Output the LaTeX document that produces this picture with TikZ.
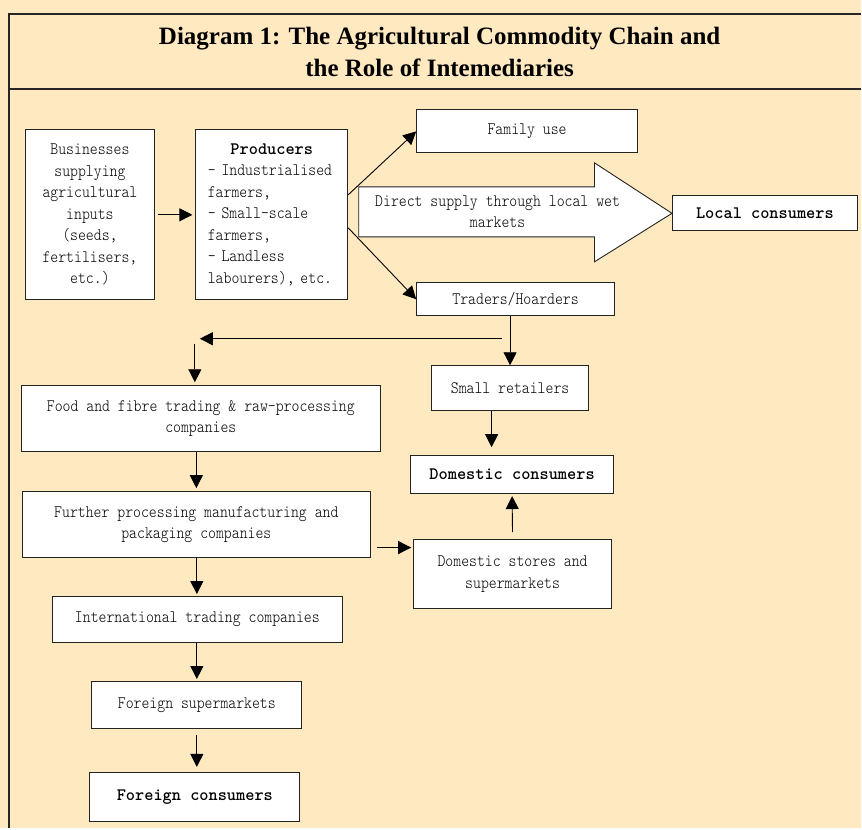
\documentclass[tikz,border=0pt]{standalone}
\usepackage{fontspec}
\usepackage{tikz}
\usetikzlibrary{arrows.meta}
\newfontfamily\titlefont{Liberation Serif}
\newfontfamily\boxfont[FakeStretch=0.86]{lmmonolt10-regular.otf}
\newfontfamily\boxboldfont{lmmonolt10-bold.otf}
\definecolor{cream}{RGB}{255,233,192}
\definecolor{edge}{RGB}{35,35,35}
\tikzset{
    frame/.style={line width=1.4pt, black!85},
    titletext/.style={align=center, font=\titlefont\bfseries\fontsize{25}{33}\selectfont},
    box/.style={draw=edge, line width=0.9pt, fill=white, align=center, inner sep=0pt,
        font=\boxfont\fontsize{17.5}{21.5}\selectfont},
    boldbox/.style={box, font=\boxboldfont\fontsize{17.5}{21.5}\selectfont},
    arr/.style={-{Triangle[length=13pt,width=13pt]}, line width=0.9pt, black},
}

\begin{document}
\begin{tikzpicture}[x=1pt, y=-1pt]
    % Background and frame
    \fill[cream] (0,0) rectangle (862,829);
    \draw[frame] (862,14) -- (9,14) -- (9,829);
    \draw[frame] (9,89) -- (862,89);

    % Title
    \node[titletext] (title) at (440,52) {Diagram 1: The Agricultural Commodity Chain and\\the Role of Intemediaries};

    % Inputs and producers
    \node[box, minimum width=130pt, minimum height=170pt] (biz) at (90,215)
        {Businesses\\supplying\\agricultural\\inputs\\(seeds,\\fertilisers,\\etc.)};
    \node[box, minimum width=152pt, minimum height=170pt, text width=128pt, align=left] (prod) at (272,215)
        {{\centering\boxboldfont Producers\par}- Industrialised\\farmers,\\- Small-scale\\farmers,\\- Landless\\labourers), etc.};

    % Right hand branches
    \node[box, minimum width=221pt, minimum height=43pt] (family) at (527.5,131.5) {Family use};
    \node[boldbox, minimum width=185pt, minimum height=35pt] (local) at (765.5,213.5) {Local consumers};
    \node[box, minimum width=198pt, minimum height=33pt] (traders) at (516,299.5) {Traders/Hoarders};

    % Big arrow for direct supply
    \draw[draw=edge, line width=0.9pt, fill=white] (359,187) -- (595,187) -- (595,163) -- (local.west)
        -- (595,262) -- (595,237) -- (359,237) -- cycle;
    \node[align=center, font=\boxfont\fontsize{17.5}{21.5}\selectfont] (direct) at (498,212)
        {Direct supply through local wet\\markets};

    % Domestic chain
    \node[box, minimum width=157pt, minimum height=45pt] (retail) at (510.5,388.5) {Small retailers};
    \node[boldbox, minimum width=203pt, minimum height=38pt] (domcons) at (512.5,475) {Domestic consumers};
    \node[box, minimum width=198pt, minimum height=69pt] (domstores) at (513,574.5) {Domestic stores and\\supermarkets};

    % Processing and export chain
    \node[box, minimum width=360pt, minimum height=66pt] (food) at (201,419)
        {Food and fibre trading \& raw-processing\\companies};
    \node[box, minimum width=349pt, minimum height=66pt] (further) at (196.5,525)
        {Further processing manufacturing and\\packaging companies};
    \node[box, minimum width=291pt, minimum height=46pt] (intl) at (197.5,620) {International trading companies};
    \node[box, minimum width=210pt, minimum height=47pt] (forsup) at (197,705.5) {Foreign supermarkets};
    \node[boldbox, minimum width=210pt, minimum height=49pt] (forcons) at (195,797.5) {Foreign consumers};

    % Connectors
    \coordinate (split) at (502,339);
    \coordinate (turn) at (200,339);
    \coordinate (drop) at (195,344);
    \draw[arr, shorten <=3pt, shorten >=3pt] (biz) -- (prod);
    \draw[arr] ([yshift=20pt]prod.east) -- (family.west);
    \draw[arr] ([yshift=-13pt]prod.east) -- (traders.west);
    \draw[arr] (traders.south -| retail.north) -- (retail.north);
    \draw[arr] (split) -- (turn);
    \draw[arr, shorten >=3pt] (drop) -- (drop |- food.north);
    \draw[arr, shorten >=3pt] (further.north |- food.south) -- (further.north);
    \draw[arr, shorten <=6pt, shorten >=2pt] ([yshift=-23pt]further.east) -- ([yshift=-23pt]further.east -| domstores.west);
    \draw[arr, shorten >=8pt] ([xshift=-18.5pt]retail.south) -- ([xshift=-18.5pt]retail.south |- domcons.north);
    \draw[arr, shorten <=7pt, shorten >=2pt] (domstores.north) -- (domcons.south);
    \draw[arr, shorten >=2pt] (further.south -| forsup.north) -- (intl.north -| forsup.north);
    \draw[arr, shorten >=2pt] (intl.south -| forsup.north) -- (forsup.north);
    \draw[arr, shorten <=6pt, shorten >=5pt] (forsup.south) -- (forsup.south |- forcons.north);
\end{tikzpicture}
\end{document}
